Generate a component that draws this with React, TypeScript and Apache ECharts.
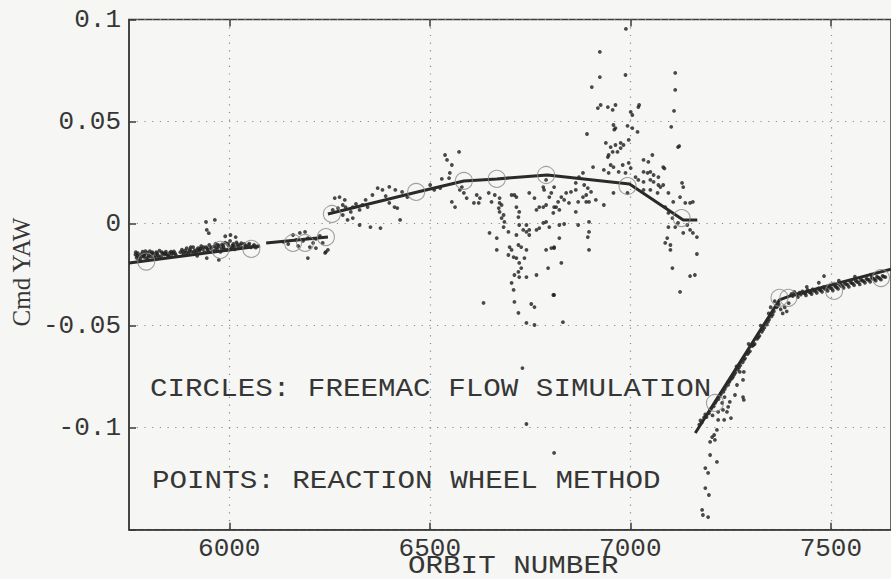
import React, { useEffect, useRef } from "react";
import * as echarts from "echarts";

// Axis extents and tick positions
const xMin = 5750;
const xMax = 7650;
const xTicks = [6000, 6500, 7000, 7500];
const yMin = -0.15;
const yMax = 0.1;
const yStep = 0.05;

// Piecewise fit lines (orbit, cmd yaw)
const fitLineA = [[5750, -0.0193], [6077, -0.011]];
const fitLineB = [[6092, -0.0095], [6246, -0.0066]];
const fitLineC = [
  [6246, 0.0047], [6469, 0.0155], [6585, 0.0209], [6667, 0.0219],
  [6793, 0.0238], [6998, 0.0194], [7132, 0.0018], [7167, 0.0018],
];
const fitLineD = [[7162, -0.1026], [7372, -0.0374], [7397, -0.0355], [7650, -0.0224]];

// FREEMAC flow simulation results (circles)
const flowSim = [
  [5793, -0.0186], [5978, -0.0129], [6055, -0.0124], [6159, -0.0095], [6189, -0.0095],
  [6241, -0.0066], [6256, 0.0047], [6466, 0.0155], [6585, 0.0209], [6667, 0.0219],
  [6790, 0.0238], [6993, 0.0184], [7128, 0.0027], [7211, -0.0879], [7372, -0.0364],
  [7394, -0.0364], [7508, -0.033], [7625, -0.0267],
];

// Reaction wheel method estimates (points)
const wheelEarly = [
  [5766, -0.0152], [5769, -0.0168], [5772, -0.0145], [5775, -0.016], [5778, -0.0172], [5781, -0.015],
  [5784, -0.0138], [5787, -0.0163], [5790, -0.0148], [5793, -0.017], [5796, -0.0142], [5799, -0.0156],
  [5802, -0.0135], [5806, -0.0162], [5810, -0.0147], [5814, -0.0168], [5818, -0.014], [5822, -0.0155],
  [5826, -0.0133], [5830, -0.016], [5834, -0.0145], [5838, -0.0152], [5842, -0.0138], [5847, -0.0158],
  [5852, -0.0143], [5857, -0.015], [5862, -0.0136], [5867, -0.0155], [5878, -0.014], [5882, -0.0128],
  [5886, -0.015], [5890, -0.0132], [5894, -0.012], [5898, -0.0145], [5902, -0.0126], [5906, -0.0138],
  [5910, -0.0115], [5914, -0.013], [5918, -0.0142], [5922, -0.012], [5926, -0.0134], [5930, -0.011],
  [5934, -0.0126], [5938, -0.014], [5942, -0.0116], [5946, -0.013], [5950, -0.0105], [5954, -0.0122],
  [5958, -0.0136], [5962, -0.0112], [5966, -0.0098], [5970, -0.0125], [5974, -0.011], [5978, -0.0138],
  [5982, -0.0102], [5986, -0.0118], [5990, -0.0093], [5994, -0.0128], [5998, -0.0108], [6002, -0.0085],
  [6006, -0.0118], [6010, -0.01], [6014, -0.0126], [6018, -0.0092], [6022, -0.0112], [6027, -0.0104],
  [6032, -0.0118], [6037, -0.01], [6042, -0.0114], [6048, -0.0106], [6054, -0.0116], [6060, -0.011],
  [6066, -0.0118], [5942, 0.0008], [5964, 0.0018], [5944, -0.0031], [5949, -0.0047], [6003, -0.0056],
  [6016, -0.0066], [5944, -0.0169], [5974, -0.0178], [5990, -0.0062], [5920, -0.0158],
  [5770, -0.0158], [5788, -0.0155], [5805, -0.015], [5820, -0.0146], [5840, -0.0146], [5860, -0.0144],
  [5900, -0.0135], [5925, -0.0127], [5945, -0.0122], [5968, -0.0116], [5985, -0.0108], [6008, -0.0108],
  [5767, -0.014], [5774, -0.0178], [5783, -0.016], [5791, -0.0135], [5798, -0.0165], [5808, -0.014],
  [5816, -0.0158], [5824, -0.0165], [5832, -0.014], [5844, -0.015], [5850, -0.016], [5855, -0.0138],
  [5865, -0.0146], [5884, -0.0138], [5892, -0.0142], [5904, -0.0115], [5912, -0.014], [5920, -0.013],
  [5928, -0.0122], [5936, -0.0115], [5948, -0.0138], [5956, -0.0115], [5964, -0.013], [5972, -0.0104],
  [5980, -0.012], [5988, -0.0128], [5996, -0.0098], [6004, -0.0125], [6012, -0.0112], [6020, -0.0102],
  [6030, -0.0096], [6040, -0.0106], [6050, -0.0098], [6062, -0.0105], [6070, -0.0112],
  [6135, -0.009], [6159, -0.0056], [6176, -0.0046], [6189, -0.0041], [6196, -0.0071], [6167, -0.008],
  [6201, -0.0115], [6216, -0.012], [6233, -0.0095], [6241, -0.0139], [6196, -0.0169], [6239, -0.0144],
  [6216, -0.0075], [6147, -0.01], [6172, -0.011], [6209, -0.0095], [6226, -0.006], [6184, -0.0085],
];

const wheelMid = [
  [6263, 0.0125], [6275, 0.013], [6288, 0.0116], [6258, 0.0067], [6271, 0.0076], [6290, 0.0081],
  [6303, 0.0057], [6283, 0.0042], [6295, 0.0018], [6308, 0.0027], [6325, 0.0067], [6332, 0.0091],
  [6345, 0.0081], [6357, 0.014], [6370, 0.0174], [6382, 0.0165], [6414, 0.0165], [6399, 0.0101],
  [6412, 0.0081], [6419, 0.0076], [6352, -0.0017], [6377, -0.0022], [6426, 0.0018], [6325, -0.0007],
  [6246, -0.0129], [6316, 0.0096], [6340, 0.0116], [6390, 0.0135], [6431, 0.0155], [6444, 0.013],
  [6399, 0.018], [6283, 0.0091], [6308, 0.0081],
  [6501, 0.0189], [6511, 0.0165], [6526, 0.0174], [6538, 0.0336], [6543, 0.0312], [6555, 0.0287],
  [6573, 0.0351], [6550, 0.0248], [6530, 0.0219], [6548, 0.0223], [6555, 0.0106], [6563, 0.0081],
  [6575, 0.0165], [6585, 0.015], [6580, 0.0179], [6592, 0.0125], [6610, 0.0101], [6622, 0.0101],
  [6617, 0.014], [6625, 0.0125], [6647, 0.015], [6654, 0.0106], [6649, -0.0046], [6667, -0.0071],
  [6667, -0.0129], [6674, 0.0101],
  [6662, 0.014], [6674, 0.0125], [6679, 0.0091], [6672, 0.0076], [6674, 0.0057], [6684, 0.0042],
  [6679, 0.0027], [6686, 0.0008], [6684, -0.0017], [6696, -0.0041], [6699, -0.0115], [6704, -0.0129],
  [6696, -0.0154], [6709, -0.0164], [6716, -0.0056], [6723, -0.0007], [6733, -0.0031], [6741, -0.0007],
  [6748, -0.0031], [6741, -0.0041], [6721, -0.0105], [6728, -0.0115], [6741, -0.0129], [6716, -0.0169],
  [6723, -0.0193], [6736, -0.0169], [6728, -0.0218], [6721, -0.0237], [6723, -0.0262], [6741, -0.0262],
  [6711, -0.0252], [6704, -0.0291], [6709, -0.0325], [6711, -0.0384], [6721, -0.0438], [6741, -0.0487],
  [6761, -0.0497], [6753, -0.0394], [6761, -0.0409], [6634, -0.0389], [6766, -0.0252], [6704, 0.014],
  [6716, 0.013], [6711, 0.014], [6716, 0.0081], [6723, 0.0057], [6721, 0.0032], [6748, 0.015],
  [6761, 0.0125], [6766, 0.0067], [6773, 0.0081], [6783, 0.0081], [6783, 0.0003], [6790, 0.0008],
  [6798, -0.0017], [6808, 0.0052], [6815, 0.0081], [6810, 0.0179], [6783, 0.0179], [6785, 0.0165],
  [6790, 0.0214], [6798, 0.013], [6790, 0.0091], [6803, -0.012], [6790, -0.0129], [6810, -0.0115],
  [6795, -0.0218], [6808, -0.035], [6766, -0.0031], [6748, -0.0056], [6773, -0.0022], [6731, -0.0708],
  [6741, -0.0982], [6810, -0.1124], [6832, -0.0483],
];

const wheelPeak = [
  [6989, 0.0954], [6924, 0.0841], [6924, 0.0718], [6988, 0.0728], [6904, 0.0669], [6926, 0.0581],
  [6919, 0.0566], [6944, 0.0571], [6956, 0.0557], [6963, 0.0581], [7001, 0.0547], [7005, 0.0532],
  [7020, 0.0571], [7022, 0.0581], [6958, 0.0483], [6963, 0.0468], [6960, 0.046], [6993, 0.0479],
  [7005, 0.0468], [7018, 0.0449], [6892, 0.0439], [6939, 0.0395], [6951, 0.0375], [6963, 0.0385],
  [6976, 0.0395], [6983, 0.0385], [6996, 0.041], [6976, 0.037], [6968, 0.0351], [6956, 0.0351],
  [6946, 0.0336], [6944, 0.0326], [7055, 0.0336], [7033, 0.0312], [7045, 0.0302], [6907, 0.0277],
  [6934, 0.0263], [6951, 0.0287], [6958, 0.0277], [6981, 0.0287], [6996, 0.0297], [6946, 0.0248],
  [6971, 0.0253], [6988, 0.0248], [7001, 0.0272], [7033, 0.0253], [7043, 0.0248], [7050, 0.0253],
  [7058, 0.0238], [7070, 0.0228], [7082, 0.0277], [7085, 0.027], [7013, 0.0228], [7020, 0.0214],
  [7033, 0.0204], [7050, 0.0214], [6882, 0.0248], [6872, 0.0228], [6864, 0.0199], [6885, 0.0189],
  [6894, 0.0174], [6902, 0.0155], [6890, 0.014], [6882, 0.013], [6897, 0.0106], [6914, 0.0116],
  [6864, 0.0165], [6852, 0.0155], [6840, 0.015], [6828, 0.013], [6820, 0.0106], [6835, 0.0116],
  [6847, 0.0101], [6810, 0.0081], [6823, 0.0067], [6803, 0.015], [6870, 0.0106], [6864, 0.0057],
  [6934, 0.0091], [6958, 0.015], [6993, 0.015], [7033, 0.0165], [7050, 0.0165], [7068, 0.015],
  [7075, 0.0179], [7082, 0.0189], [7058, 0.0204], [7070, 0.0189], [7095, 0.015], [7107, 0.0106],
  [7087, 0.0081], [7129, 0.0199], [7132, 0.0179], [7124, 0.013], [7137, 0.0101], [7149, 0.0101],
  [7156, 0.0106], [7095, 0.0052], [7105, 0.0027], [7095, -0.0017], [7112, -0.0017], [7119, 0.0003],
  [7142, -0.0007], [7149, -0.0031], [7156, -0.0046], [7132, -0.0046], [7166, -0.0066], [7092, -0.0071],
  [7100, -0.0105], [7087, -0.0095], [7100, -0.0129], [7105, -0.0218], [7124, -0.0335], [7149, -0.0257],
  [7161, -0.0252], [7166, -0.0149], [7112, 0.0655], [7112, 0.0738], [7109, 0.0552], [7102, 0.0474],
  [7119, 0.0375], [7122, 0.038], [6823, -0.0007], [6835, -0.0002], [6870, -0.0007], [6897, 0.0008],
  [6897, -0.0041], [6894, -0.0066], [6823, -0.0071], [6810, -0.012], [6828, -0.0193], [6810, -0.035],
  [6897, -0.0129], [6890, 0.0106],
];

const wheelLate = [
  [7179, -0.1403], [7181, -0.1428], [7194, -0.1438], [7187, -0.1296], [7196, -0.133], [7187, -0.1198],
  [7194, -0.1222], [7199, -0.1134], [7216, -0.1168], [7199, -0.107], [7204, -0.1046], [7211, -0.106],
  [7209, -0.1036], [7216, -0.1011], [7219, -0.0962], [7234, -0.0962], [7251, -0.0953], [7219, -0.0923],
  [7231, -0.0913], [7241, -0.0923], [7244, -0.0898], [7229, -0.0879], [7248, -0.0874], [7261, -0.084],
  [7281, -0.085], [7283, -0.0864], [7266, -0.0791], [7244, -0.0776], [7254, -0.0757], [7281, -0.0766],
  [7283, -0.0727], [7273, -0.0727],
  [7172, -0.0985], [7178, -0.0975], [7184, -0.095], [7190, -0.0948], [7196, -0.093], [7202, -0.0905],
  [7208, -0.0895], [7214, -0.087], [7220, -0.086], [7226, -0.0835], [7232, -0.0825], [7238, -0.08],
  [7244, -0.079], [7250, -0.0765], [7256, -0.075], [7262, -0.073], [7268, -0.0715], [7274, -0.0695],
  [7280, -0.068], [7286, -0.066], [7292, -0.064], [7298, -0.0625], [7304, -0.06], [7310, -0.059],
  [7316, -0.0565], [7322, -0.055], [7328, -0.053], [7334, -0.051], [7340, -0.0495], [7346, -0.047],
  [7352, -0.0455], [7358, -0.043], [7364, -0.041], [7370, -0.0395], [7205, -0.094], [7235, -0.085],
  [7265, -0.07], [7295, -0.059], [7325, -0.05], [7350, -0.041], [7360, -0.038], [7345, -0.044],
  [7375, -0.042], [7380, -0.044], [7385, -0.041], [7390, -0.043], [7395, -0.039], [7483, -0.0257],
  [7175, -0.0965], [7187, -0.0935], [7199, -0.0915], [7211, -0.088], [7223, -0.0845], [7235, -0.0812],
  [7247, -0.0775], [7259, -0.074], [7271, -0.0705], [7283, -0.0668], [7295, -0.0632], [7307, -0.0595],
  [7319, -0.0558], [7331, -0.052], [7343, -0.0482], [7355, -0.0445], [7367, -0.0405],
  [7405, -0.0355], [7412, -0.0345], [7418, -0.036], [7425, -0.0348], [7432, -0.034], [7438, -0.0352],
  [7445, -0.0335], [7452, -0.0345], [7458, -0.033], [7465, -0.034], [7472, -0.0325], [7478, -0.0335],
  [7485, -0.032], [7492, -0.033], [7498, -0.0315], [7505, -0.0328], [7512, -0.031], [7518, -0.032],
  [7525, -0.0305], [7532, -0.0315], [7538, -0.0298], [7545, -0.031], [7552, -0.0292], [7558, -0.0302],
  [7565, -0.0285], [7572, -0.0298], [7578, -0.028], [7585, -0.029], [7592, -0.0275], [7598, -0.0285],
  [7605, -0.027], [7612, -0.028], [7618, -0.0265], [7625, -0.0275], [7632, -0.026], [7440, -0.031],
  [7470, -0.029], [7520, -0.028], [7560, -0.026], [7600, -0.025],
  [7402, -0.0345], [7409, -0.0335], [7415, -0.035], [7422, -0.0338], [7429, -0.0332], [7436, -0.0342],
  [7442, -0.0325], [7449, -0.0338], [7455, -0.0322], [7462, -0.033], [7469, -0.0318], [7475, -0.0326],
  [7482, -0.0312], [7489, -0.032], [7495, -0.0308], [7502, -0.0318], [7509, -0.0302], [7515, -0.0312],
  [7522, -0.0298], [7529, -0.0305], [7535, -0.0292], [7542, -0.03], [7549, -0.0286], [7555, -0.0294],
  [7562, -0.028], [7569, -0.0288], [7575, -0.0274], [7582, -0.0282], [7589, -0.027], [7595, -0.0276],
  [7602, -0.0264], [7609, -0.0272], [7615, -0.026], [7622, -0.0268], [7629, -0.0256], [7636, -0.0262],
];

const MONO = '"Liberation Mono", "DejaVu Sans Mono", monospace';
const INK = "#363636";

export default function App() {
  const ref = useRef<HTMLDivElement>(null);

  useEffect(() => {
    if (!ref.current) return;
    const chart = echarts.init(ref.current, null, { renderer: "svg" });

    const fitSeries = [fitLineA, fitLineB, fitLineC, fitLineD].map((seg) => ({
      type: "line",
      data: seg,
      xAxisIndex: 0,
      yAxisIndex: 0,
      symbol: "none",
      lineStyle: { color: "#2a2a2a", width: 3 },
      z: 4,
      silent: true,
    }));

    const annotation = (text: string, x: number, y: number) => ({
      type: "text",
      x,
      y,
      scaleX: 1.17,
      style: {
        text,
        font: `25px ${MONO}`,
        fill: INK,
        align: "left",
        verticalAlign: "middle",
        textAlign: "left",
        textVerticalAlign: "middle",
      },
      z: 10,
    });

    chart.setOption({
      animation: false,
      backgroundColor: "#f6f6f4",
      grid: {
        left: 129,
        right: -5.6,
        top: 19.5,
        bottom: 49.3,
        show: true,
        borderColor: "#3a3a3a",
        borderWidth: 1.5,
        backgroundColor: "transparent",
      },
      xAxis: [
        {
          type: "value",
          min: xMin,
          max: xMax,
          axisLine: { show: true, onZero: false, lineStyle: { color: "#3a3a3a", width: 1.5 } },
          axisTick: { show: true, inside: true, length: 7, customValues: xTicks, lineStyle: { color: "#3a3a3a", width: 1.5 } },
          axisLabel: {
            customValues: xTicks,
            color: INK,
            fontFamily: MONO,
            fontSize: 26,
            margin: 6,
            formatter: (v: number) => String(v),
          },
          splitLine: { show: true, lineStyle: { color: "#8a8a8a", width: 1.2, type: [1.2, 6.5] } },
        },
        {
          type: "value",
          position: "top",
          min: xMin,
          max: xMax,
          axisLine: { show: false, onZero: false },
          axisTick: { show: true, inside: true, length: 7, customValues: xTicks, lineStyle: { color: "#3a3a3a", width: 1.5 } },
          axisLabel: { show: false },
          splitLine: { show: false },
        },
      ],
      yAxis: {
        type: "value",
        min: yMin,
        max: yMax,
        interval: yStep,
        axisLine: { show: true, onZero: false, lineStyle: { color: "#3a3a3a", width: 1.5 } },
        axisTick: { show: true, inside: true, length: 7, lineStyle: { color: "#3a3a3a", width: 1.5 } },
        axisLabel: {
          color: INK,
          fontFamily: MONO,
          fontSize: 26,
          margin: 8,
          formatter: (v: number) => (Math.abs(v - yMin) < 1e-9 ? "" : String(Number(v.toFixed(2)))),
        },
        splitLine: { show: true, lineStyle: { color: "#8a8a8a", width: 1.2, type: [1.2, 6.5] } },
      },
      series: [
        {
          type: "scatter",
          data: [...wheelEarly, ...wheelMid, ...wheelPeak, ...wheelLate],
          symbol: "circle",
          symbolSize: 3.8,
          itemStyle: { color: "#1e1e1e" },
          z: 3,
          silent: true,
        },
        ...fitSeries,
        {
          type: "scatter",
          data: flowSim,
          symbol: "circle",
          symbolSize: 17,
          itemStyle: { color: "transparent", borderColor: "#8c8c8c", borderWidth: 1.1 },
          z: 5,
          silent: true,
        },
      ],
      graphic: [
        annotation("CIRCLES: FREEMAC FLOW SIMULATION", 150, 389),
        annotation("POINTS: REACTION WHEEL METHOD", 152, 481),
        annotation("ORBIT NUMBER", 408, 566),
        {
          type: "text",
          x: 21,
          y: 272,
          rotation: Math.PI / 2,
          style: {
            text: "Cmd YAW",
            font: '25px "Liberation Serif", serif',
            fill: INK,
            align: "center",
            verticalAlign: "middle",
            textAlign: "center",
            textVerticalAlign: "middle",
          },
          z: 10,
        },
      ],
    });

    return () => chart.dispose();
  }, []);

  return (
    <div
      ref={ref}
      style={{ position: "absolute", left: 0, top: 0, width: 891, height: 579, background: "#f6f6f4" }}
    />
  );
}
